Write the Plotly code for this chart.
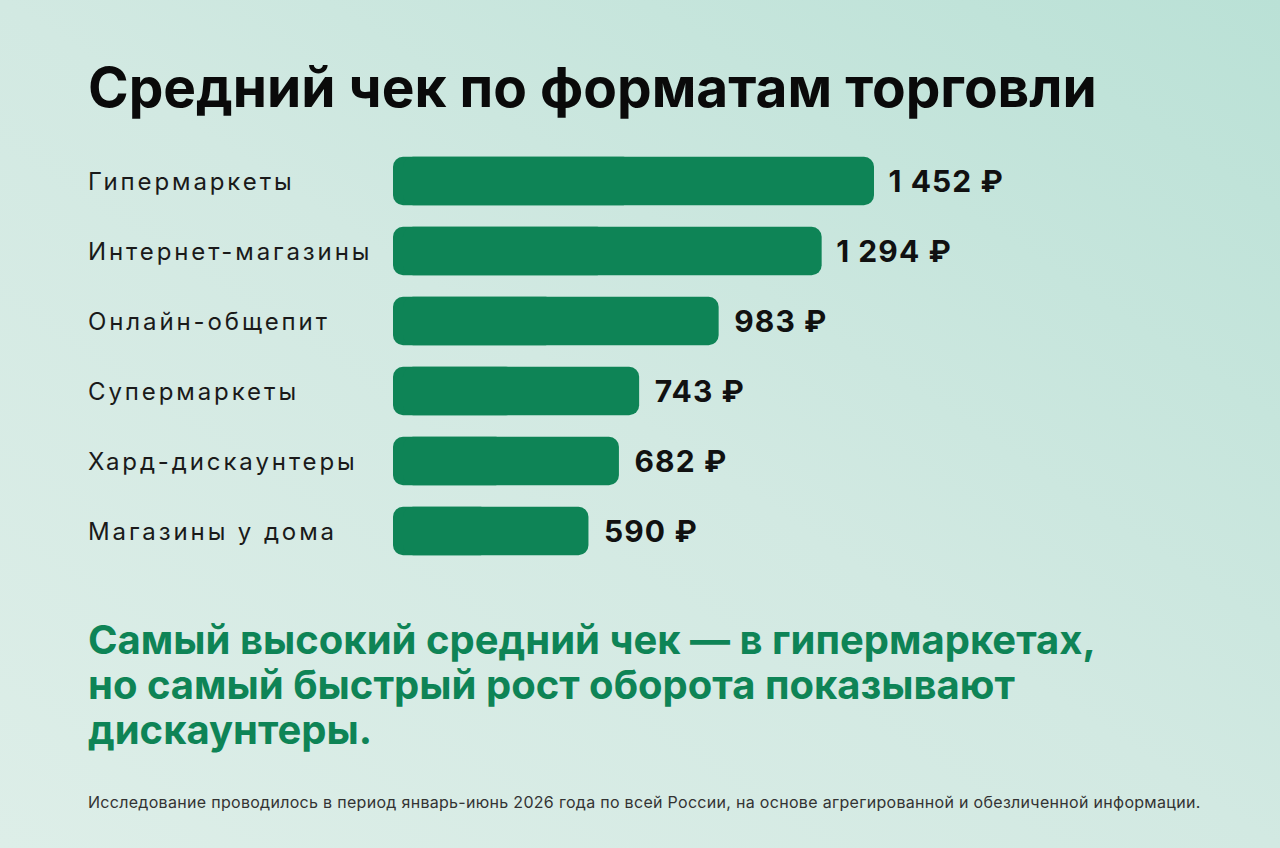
import base64
import plotly.graph_objects as go

categories = ["Гипермаркеты", "Интернет-магазины", "Онлайн-общепит",
              "Супермаркеты", "Хард-дискаунтеры", "Магазины у дома"]
values = [1452, 1294, 983, 743, 682, 590]
value_labels = ["1 452 ₽", "1 294 ₽", "983 ₽", "743 ₽", "682 ₽", "590 ₽"]

title = "Средний чек по форматам торговли"
takeaway = ["Самый высокий средний чек — в гипермаркетах,",
            "но самый быстрый рост оборота показывают",
            "дискаунтеры."]
footnote = ("Исследование проводилось в период январь-июнь 2026 года по всей России, "
            "на основе агрегированной и обезличенной информации.")

W, H = 1280, 848
GREEN = "#0e8456"
FONT = "Inter"
XMAX = 887 / 481 * 1452      # x range so the longest bar ends near 874 px
R = 10 / 887 * XMAX          # corner radius (10 px) in data units

# soft diagonal gradient for the background
svg = f"""<svg xmlns='http://www.w3.org/2000/svg' width='{W}' height='{H}'>
<defs><linearGradient id='g' x1='0' y1='1' x2='1' y2='0'>
<stop offset='0' stop-color='#ddeee8'/><stop offset='0.5' stop-color='#d2e9e2'/>
<stop offset='1' stop-color='#bae1d6'/></linearGradient></defs>
<rect width='100%' height='100%' fill='url(#g)'/></svg>"""
bg_src = "data:image/svg+xml;base64," + base64.b64encode(svg.encode()).decode()

fig = go.Figure()
# left half of each bar drawn back towards zero, so the left end is rounded too
fig.add_trace(go.Bar(
    x=[-v / 2 for v in values], base=[v / 2 for v in values], y=categories, orientation="h",
    marker=dict(color=GREEN, cornerradius=10, line=dict(width=0)),
    hoverinfo="skip",
))
fig.add_trace(go.Bar(
    x=[v - R for v in values], base=[R] * len(values), y=categories, orientation="h",
    marker=dict(color=GREEN, cornerradius=10, line=dict(width=0)),
    text=["\u00a0\u00a0" + t for t in value_labels],
    textposition="outside", cliponaxis=False,
    textfont=dict(family=FONT, size=30, color="#111111", weight=700),
    hoverinfo="skip",
))

fig.update_xaxes(domain=[393 / W, 1], range=[0, XMAX], visible=False, fixedrange=True)
fig.update_yaxes(domain=[1 - 566 / H, 1 - 146 / H], autorange="reversed",
                 showticklabels=False, showgrid=False, zeroline=False, fixedrange=True)

annotations = []
for c in categories:
    annotations.append(dict(x=86 / W, y=c, xref="paper", yref="y", text=c,
                            showarrow=False, xanchor="left", yanchor="middle", align="left",
                            font=dict(family=FONT, size=24, color="#1a1a1a")))

annotations.append(dict(x=86 / W, y=1 - 87 / H, xref="paper", yref="paper", text=title,
                        showarrow=False, xanchor="left", yanchor="middle", align="left",
                        font=dict(family=FONT, size=55, color="#0a0a0a", weight=700)))

for i, line in enumerate(takeaway):
    annotations.append(dict(x=86 / W, y=1 - (639 + 45 * i) / H, xref="paper", yref="paper",
                            text=line, showarrow=False, xanchor="left", yanchor="middle",
                            align="left",
                            font=dict(family=FONT, size=40, color=GREEN, weight=700)))

annotations.append(dict(x=86 / W, y=1 - 802 / H, xref="paper", yref="paper", text=footnote,
                        showarrow=False, xanchor="left", yanchor="middle", align="left",
                        font=dict(family=FONT, size=16, color="#333333")))

fig.update_layout(
    width=W, height=H,
    margin=dict(l=0, r=0, t=0, b=0),
    paper_bgcolor="#d3e9e2", plot_bgcolor="rgba(0,0,0,0)",
    barmode="overlay", bargap=0.31, showlegend=False, hovermode=False,
    annotations=annotations,
    images=[dict(source=bg_src, xref="paper", yref="paper", x=0, y=1,
                 sizex=1, sizey=1, sizing="stretch", layer="below")],
)

# no page margin, and a bit of tracking on the labels like the original
js = """
document.body.style.margin = '0';
var gd = document.getElementById('{plot_id}');
function track() {
  for (var i = 0; i < %d; i++) {
    var t = gd.querySelector('g.annotation[data-index="' + i + '"] text');
    if (t) t.style.letterSpacing = '2.9px';
  }
  var f = gd.querySelector('g.annotation[data-index="%d"] text');
  if (f) f.style.letterSpacing = '0.3px';
  gd.querySelectorAll('text.bartext').forEach(function (t) { t.style.letterSpacing = '1.1px'; });
}
track();
gd.on('plotly_afterplot', track);
""" % (len(categories), len(annotations) - 1)

fig.write_html("out.html", config={"displayModeBar": False}, post_script=js)
